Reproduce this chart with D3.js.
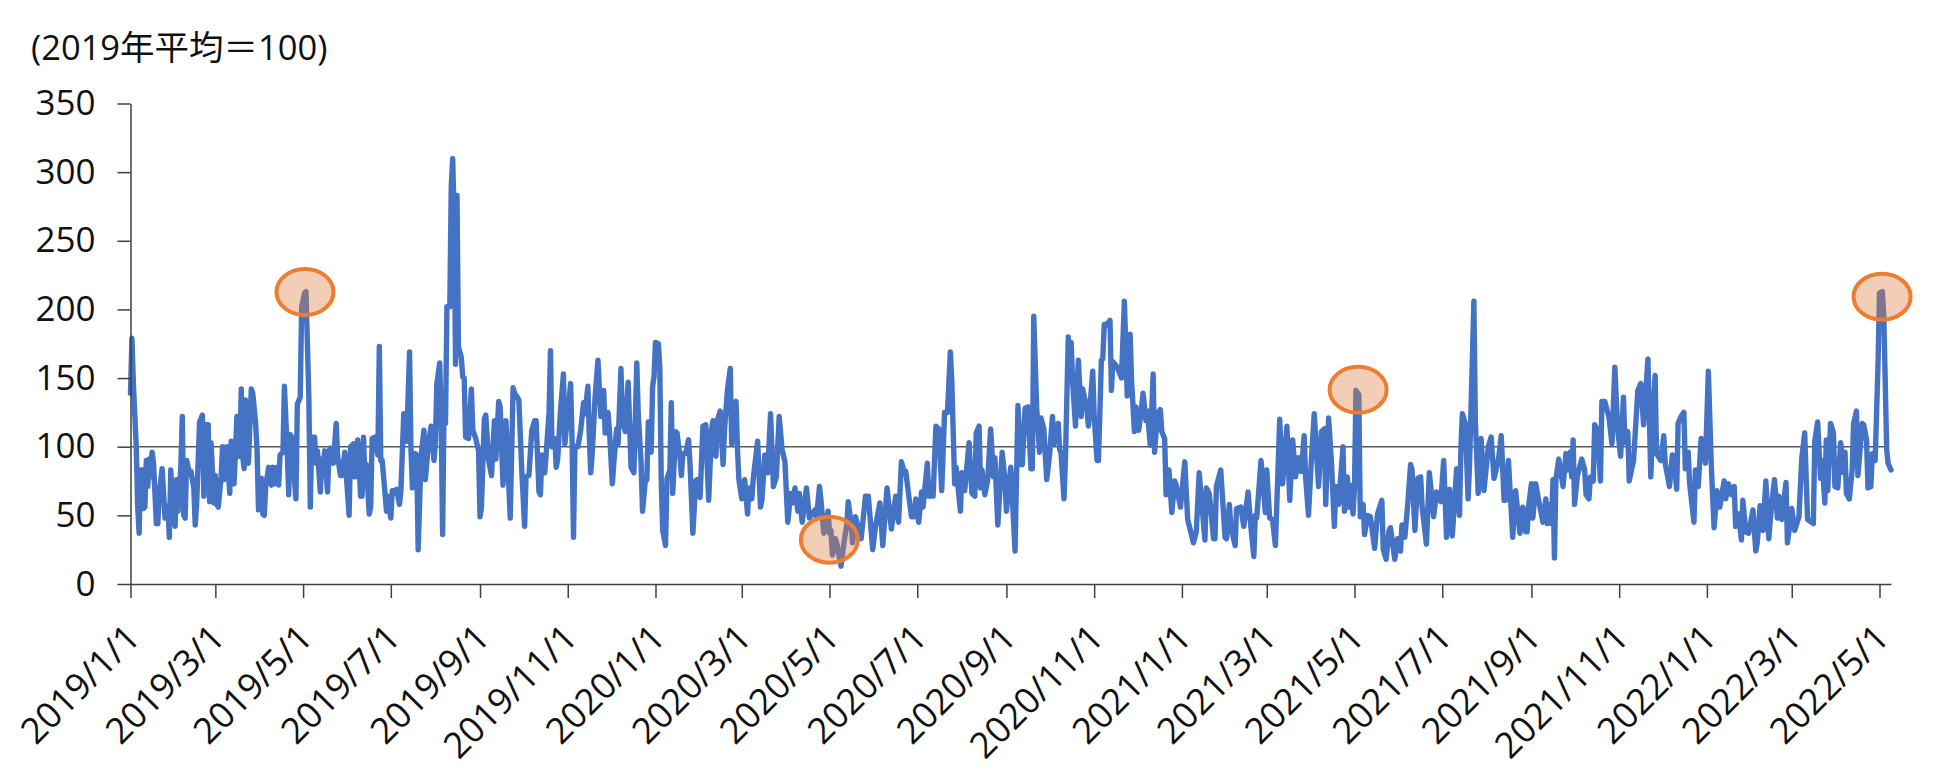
<!DOCTYPE html>
<html>
<head>
<meta charset="utf-8">
<script src="https://d3js.org/d3.v7.min.js"></script>
<style>
    html, body { margin: 0; padding: 0; background: #fff; }
    text { font-family: "Open Sans", "Noto Sans CJK JP", sans-serif; fill: #111; }
</style>
</head>
<body>
<div id="chart"></div>
<script>
// series: [days since 2019/1/1, index]
const seriesEarly2019 = [[0,139],[1,179],[2,146],[4,100],[5,56],[6,37],[7,83],[8,83],[9,55],[10,56],[11,90],[12,71],[13,91],[14,78],[15,96],[16,88],[18,44],[19,44],[20,66],[22,84],[24,48],[26,57],[27,34],[28,83],[29,62],[31,42],[32,76],[33,53],[35,85],[36,122],[37,50],[38,48],[39,90],[41,81],[42,82],[44,70],[45,43],[46,59],[48,118],[50,123],[51,64],[52,116],[54,116],[55,60],[56,103],[58,59],[59,79],[60,58],[61,56],[63,78],[64,100],[65,76],[67,100],[69,66],[70,104],[72,73],[73,97],[74,122],[76,93],[77,142],[78,93],[79,84],[80,134],[82,88],[84,142],[85,139],[87,117],[88,97],[89,54],[91,77],[92,51],[93,50],[94,71],[96,85],[98,72],[99,85],[100,73],[102,85],[103,72],[104,94],[106,96],[107,144],[109,97],[110,65],[111,109],[113,105],[114,76],[115,62],[116,131],[118,136],[119,202],[121,212],[122,213],[124,136],[125,56],[126,107],[128,107],[129,88],[130,97],[132,67],[133,91],[134,85],[135,97],[137,67],[138,97],[139,99],[141,88]]
const seriesMid2019 = [[143,117],[144,93],[146,79],[147,79],[149,96],[150,80],[152,50],[153,100],[155,102],[156,78],[158,105],[160,64],[161,64],[162,107],[163,76],[164,87],[166,51],[167,56],[168,106],[170,107],[172,94],[173,173],[174,90],[175,90],[178,53],[179,64],[181,48],[182,68],[184,68],[185,69],[187,58],[188,68],[190,124],[191,105],[192,104],[194,169],[195,98],[196,70],[198,95],[199,94],[200,25],[202,93],[204,112],[205,76],[207,101],[209,115],[211,90],[212,104],[213,146],[215,161],[216,119],[217,36],[218,129],[219,117],[220,202],[222,202],[223,289],[224,310],[225,267],[226,160],[227,283],[228,173],[230,165],[231,151],[232,150],[233,107],[235,106],[237,142],[238,112],[240,106],[242,97],[243,49],[244,56],[246,120],[247,123],[249,90],[251,79],[253,119],[254,91],[256,133],[257,129],[259,72],[261,119],[262,97],[264,48],[266,143],[267,139],[269,136],[270,134],[272,84],[274,42],[275,78],[277,79]]
const seriesLate2019 = [[279,112],[281,119],[282,119],[284,67],[285,65],[286,94],[288,81],[289,95],[291,125],[292,170],[293,100],[295,106],[296,85],[297,91],[299,127],[301,153],[302,102],[304,124],[306,146],[307,105],[308,34],[309,100],[311,100],[313,112],[315,132],[316,124],[318,144],[319,107],[320,81],[321,95],[323,136],[325,163],[327,122],[329,141],[330,110],[332,125],[333,112],[335,73],[336,88],[338,113],[339,102],[341,157],[342,119],[344,111],[346,147],[347,117],[348,85],[350,81],[352,161],[353,124],[355,88],[356,53],[358,76],[359,76],[360,118],[362,96],[363,144],[364,151],[365,176],[367,175],[368,158],[369,76],[370,39],[372,28],[373,77],[375,83],[376,132],[377,66],[379,111],[380,110],[382,93],[383,79],[384,95],[386,95],[388,105],[389,88],[391,37],[393,75],[394,76],[396,63],[398,115],[400,116],[401,85],[402,61],[404,113],[405,119],[407,93],[408,119],[410,126],[412,87],[413,112],[415,141]]
const seriesEarly2020 = [[417,157],[418,102],[420,131],[421,133],[422,98],[423,76],[425,62],[427,76],[429,51],[430,70],[432,62],[433,77],[436,104],[438,56],[439,61],[441,94],[443,81],[445,124],[447,71],[449,78],[451,122],[453,98],[455,89],[457,45],[459,66],[460,59],[462,70],[464,53],[465,66],[467,45],[470,70],[472,48],[476,54],[477,49],[479,71],[480,62],[482,37],[485,53],[486,37],[487,39],[488,21],[490,33],[491,30],[494,13],[496,30],[498,43],[499,60],[501,44],[502,30],[504,49],[505,45],[508,33],[511,64],[513,64],[516,25],[518,42],[521,59],[523,28],[526,70],[529,40],[532,64],[534,45],[536,89],[538,81],[539,82],[541,65],[543,49],[545,49],[546,62],[548,45],[550,67],[551,56],[554,88],[555,64],[558,64]]
const seriesMid2020 = [[560,115],[562,113],[564,68],[566,125],[568,125],[570,169],[571,148],[573,73],[574,85],[577,53],[578,81],[580,68],[583,103],[585,66],[587,64],[588,110],[590,115],[591,70],[592,83],[594,65],[596,76],[598,113],[600,78],[601,92],[603,43],[606,96],[608,76],[609,53],[612,85],[615,24],[617,130],[619,87],[620,87],[622,128],[624,129],[626,84],[627,84],[628,195],[630,129],[632,96],[633,121],[635,113],[637,76],[639,94],[641,122],[642,102],[645,117],[646,98],[647,95],[649,62],[650,90],[652,180],[653,153],[654,176],[655,148],[657,115],[659,163],[661,122],[662,142],[665,127],[666,115],[669,155],[670,122],[672,90],[673,90],[675,163],[676,164],[677,189],[678,188],[681,192],[682,141],[683,162],[686,158],[689,150],[691,206],[693,137],[695,182],[696,148],[698,111],[699,129]]
const seriesEarly2021 = [[701,112],[703,129],[704,139],[706,119],[707,126],[709,101],[710,126],[711,153],[712,96],[714,124],[716,127],[717,111],[719,106],[720,65],[722,83],[724,52],[726,75],[727,72],[730,56],[733,89],[735,47],[739,30],[741,38],[743,81],[747,32],[748,70],[750,66],[753,33],[754,33],[755,71],[758,83],[761,34],[762,33],[764,58],[765,42],[768,28],[769,55],[772,56],[774,42],[777,67],[779,41],[781,20],[782,50],[783,48],[786,90],[789,52],[790,83],[792,48],[794,47],[796,28],[799,120],[801,73],[804,115],[806,61],[808,105],[810,78],[812,92],[814,82],[816,108],[817,78],[819,50],[821,90],[823,124],[826,71],[828,111],[830,113],[831,58],[833,121],[835,88],[837,42],[838,71]]
const seriesMid2021 = [[840,58],[843,100],[844,53],[846,78],[847,56],[848,72],[850,51],[851,71],[852,141],[854,138],[855,49],[857,58],[858,36],[860,50],[862,49],[865,26],[867,51],[870,61],[871,25],[873,18],[875,39],[876,41],[879,18],[881,33],[883,24],[884,43],[886,34],[888,58],[890,87],[891,83],[893,39],[895,77],[897,78],[898,56],[901,29],[903,81],[905,61],[906,49],[908,67],[911,60],[913,90],[915,34],[917,69],[919,35],[922,84],[924,50],[925,100],[926,124],[928,117],[930,62],[931,88],[934,206],[935,119],[937,66],[939,106],[941,68],[944,100],[946,107],[948,77],[951,90],[953,108],[955,61],[956,61],[958,90],[961,34],[963,68],[966,37],[968,56],[970,38],[971,38],[972,56],[974,73],[975,48]]
const seriesLate2021 = [[977,73],[979,61],[982,45],[984,62],[985,44],[987,58],[988,44],[989,76],[990,19],[991,76],[993,91],[996,71],[998,95],[999,83],[1001,96],[1002,78],[1003,105],[1004,58],[1006,79],[1009,91],[1011,83],[1012,65],[1014,62],[1015,78],[1017,75],[1018,116],[1020,112],[1022,75],[1023,133],[1025,133],[1028,121],[1030,102],[1032,158],[1034,112],[1036,93],[1038,136],[1039,103],[1041,111],[1042,75],[1045,90],[1046,107],[1048,141],[1050,146],[1052,116],[1055,164],[1057,78],[1059,132],[1060,152],[1061,95],[1064,90],[1066,108],[1067,88],[1070,71],[1072,94],[1073,93],[1075,69],[1076,117],[1078,122],[1080,125],[1081,84],[1083,96],[1084,73],[1087,45],[1088,83],[1090,71],[1092,106],[1095,88],[1097,155],[1099,88],[1101,41],[1103,68],[1105,56],[1108,75],[1109,62],[1111,73]]
const seriesEarly2022 = [[1113,65],[1115,71],[1116,42],[1118,51],[1120,32],[1121,61],[1123,38],[1125,37],[1128,54],[1130,24],[1131,30],[1133,57],[1135,39],[1137,75],[1139,33],[1141,58],[1143,76],[1145,48],[1146,64],[1148,47],[1151,74],[1152,30],[1155,55],[1157,39],[1160,49],[1162,92],[1164,110],[1166,47],[1170,44],[1171,104],[1173,118],[1175,77],[1176,90],[1178,59],[1179,105],[1180,68],[1182,117],[1184,110],[1185,71],[1187,70],[1189,103],[1191,81],[1192,96],[1193,66],[1195,62],[1197,83],[1198,117],[1200,126],[1201,79],[1204,117],[1205,116],[1207,105],[1208,70],[1210,71],[1211,95],[1213,90],[1215,161],[1216,212],[1218,213],[1219,195],[1221,98],[1222,88],[1224,83]]

const baseDays = [0, 1221]
const baseValues = [100, 100]

// the four circled moments
const markDays = [121.3, 485.9, 853.5, 1217.8]
const markValues = [212.7, 32.3, 141.5, 209.3]

const yTicks = [0, 50, 100, 150, 200, 250, 300, 350]
const xTickLabels = ["2019/1/1", "2019/3/1", "2019/5/1", "2019/7/1", "2019/9/1", "2019/11/1",
    "2020/1/1", "2020/3/1", "2020/5/1", "2020/7/1", "2020/9/1", "2020/11/1",
    "2021/1/1", "2021/3/1", "2021/5/1", "2021/7/1", "2021/9/1", "2021/11/1",
    "2022/1/1", "2022/3/1", "2022/5/1"]
const unitLabel = "(2019年平均＝100)"

function drawChart() {

    // 1. Dimensions

    const dimensions = {
        width: 1950,
        height: 770,
        left: 130.5,
        right: 1891,
        top: 103.5,
        bottom: 584
    }

    // 2. Wrapper

    const wrapper = d3.select("#chart")
        .append("svg")
        .attr("width", dimensions.width)
        .attr("height", dimensions.height)
        .style("display", "block")

    // 3. Data

    const parseDate = d3.timeParse("%Y/%-m/%-d")
    const startDate = parseDate("2019/1/1")
    const toDate = day => new Date(startDate.getTime() + day * 864e5)

    const series = [].concat(seriesEarly2019, seriesMid2019, seriesLate2019, seriesEarly2020,
        seriesMid2020, seriesEarly2021, seriesMid2021, seriesLate2021, seriesEarly2022)
        .map(([day, value]) => ({ date: toDate(day), value }))

    // 4. Scales

    const xScale = d3.scaleTime()
        .domain([startDate, parseDate("2022/5/9")])
        .range([dimensions.left, dimensions.right])

    const yScale = d3.scaleLinear()
        .domain([0, 350])
        .range([dimensions.bottom, dimensions.top])

    const lineGenerator = d3.line()
        .x(d => xScale(d.date))
        .y(d => yScale(d.value))

    // 5. Base line and series

    wrapper.append("path")
        .datum(baseDays.map((day, i) => ({ date: toDate(day), value: baseValues[i] })))
        .attr("d", lineGenerator)
        .attr("fill", "none")
        .attr("stroke", "#595959")
        .attr("stroke-width", 1.5)

    wrapper.append("path")
        .datum(series)
        .attr("d", lineGenerator)
        .attr("fill", "none")
        .attr("stroke", "#4472C4")
        .attr("stroke-width", 5.4)
        .attr("stroke-linejoin", "round")
        .attr("stroke-linecap", "round")

    // 6. Axes

    const yAxis = wrapper.append("g")
        .attr("transform", `translate(${dimensions.left},0)`)
        .call(d3.axisLeft(yScale).tickValues(yTicks).tickSize(13).tickSizeOuter(0))

    yAxis.selectAll("text")
        .attr("x", -35)
        .style("font-size", "35px")
        .attr("fill", "#111")

    const xAxis = wrapper.append("g")
        .attr("transform", `translate(0,${dimensions.bottom})`)
        .call(d3.axisBottom(xScale)
            .tickValues(xTickLabels.map(parseDate))
            .tickFormat(d3.timeFormat("%Y/%-m/%-d"))
            .tickSize(14)
            .tickSizeOuter(0))

    xAxis.selectAll("text")
        .attr("text-anchor", "end")
        .attr("x", 0)
        .attr("y", 0)
        .attr("dy", 0)
        .attr("transform", "translate(11,56) rotate(-45)")
        .style("font-size", "36px")
        .attr("fill", "#111")

    wrapper.selectAll(".domain, .tick line")
        .attr("stroke", "#404040")
        .attr("stroke-width", 1.5)

    // 7. Circled moments

    wrapper.append("g")
        .selectAll("ellipse")
        .data(markDays)
        .join("ellipse")
        .attr("cx", d => xScale(toDate(d)))
        .attr("cy", (d, i) => yScale(markValues[i]))
        .attr("rx", 28.5)
        .attr("ry", 23)
        .attr("fill", "#DC7F3E")
        .attr("fill-opacity", 0.38)
        .attr("stroke", "#ED7D31")
        .attr("stroke-width", 4)

    // 8. Unit label

    wrapper.append("text")
        .attr("x", 31)
        .attr("y", 60)
        .style("font-size", "34.5px")
        .text(unitLabel)
}
drawChart()
</script>
</body>
</html>
